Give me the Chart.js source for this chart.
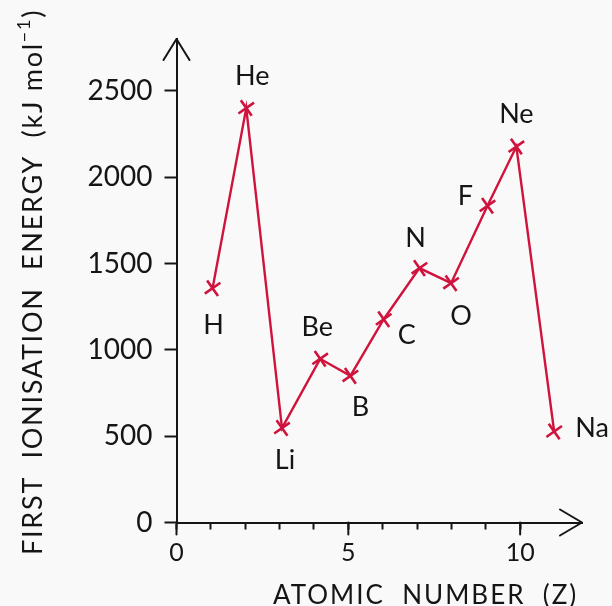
<!DOCTYPE html>
<html>
<head>
<meta charset="utf-8">
<script src="https://cdn.jsdelivr.net/npm/chart.js@4.4.1/dist/chart.umd.min.js"></script>
<style>
  html, body { margin: 0; padding: 0; background: #f9f9f9; }
  #wrap { width: 612px; height: 606px; }
</style>
</head>
<body>
<div id="wrap"><canvas id="ieChart" width="612" height="606"></canvas></div>
<script>
const elements = ['H', 'He', 'Li', 'Be', 'B', 'C', 'N', 'O', 'F', 'Ne', 'Na'];
const atomicNumber = [1.05, 2.03, 3.07, 4.18, 5.06, 6.03, 7.07, 7.99, 9.05, 9.89, 10.99];
const ionisationEnergy = [1357, 2400, 547, 948, 849, 1177, 1473, 1386, 1834, 2177, 527];
const xTickLabels = [0, 5, 10];
const yTickValues = [0, 500, 1000, 1500, 2000, 2500];

const FONT = 'Lato';
const INK = '#151515';
const RED = '#d0133c';

// where each element name sits relative to its cross
const labelOffsets = {
  H: [1, 37], He: [6, -32], Li: [3, 32], Be: [-3, -32], B: [10, 31], C: [23, 16],
  N: [-4, -30], O: [10, 33], F: [-22, -10], Ne: [0, -32], Na: [38, -3]
};

const points = atomicNumber.map((x, i) => ({ x: x, y: ionisationEnergy[i] }));

const backgroundPlugin = {
  id: 'bg',
  beforeDraw(chart) {
    const ctx = chart.ctx;
    ctx.save();
    ctx.fillStyle = '#f9f9f9';
    ctx.fillRect(0, 0, chart.width, chart.height);
    ctx.restore();
  }
};

const decorPlugin = {
  id: 'decor',
  afterDatasetsDraw(chart) {
    const ctx = chart.ctx;
    const xs = chart.scales.x;
    const ys = chart.scales.y;
    const x0 = xs.getPixelForValue(0);
    const y0 = ys.getPixelForValue(0);
    ctx.save();
    ctx.strokeStyle = INK;
    ctx.lineWidth = 2;
    ctx.lineCap = 'round';
    ctx.lineJoin = 'round';

    // longer ticks at 0, 5, 10
    xTickLabels.forEach(v => {
      const px = xs.getPixelForValue(v);
      ctx.beginPath();
      ctx.moveTo(px, y0);
      ctx.lineTo(px, y0 + 12);
      ctx.stroke();
    });

    // arrow heads
    const yTop = ys.getPixelForValue(ys.max);
    ctx.beginPath();
    ctx.moveTo(x0 - 13, yTop + 21);
    ctx.lineTo(x0, yTop);
    ctx.lineTo(x0 + 13, yTop + 21);
    ctx.stroke();

    const xEnd = xs.getPixelForValue(xs.max);
    ctx.beginPath();
    ctx.moveTo(xEnd - 22, y0 - 13);
    ctx.lineTo(xEnd, y0);
    ctx.lineTo(xEnd - 22, y0 + 13);
    ctx.stroke();

    // element names
    ctx.fillStyle = INK;
    ctx.font = '27px ' + FONT;
    ctx.textAlign = 'center';
    ctx.textBaseline = 'middle';
    chart.getDatasetMeta(0).data.forEach((pt, i) => {
      const off = labelOffsets[elements[i]];
      ctx.fillText(elements[i], pt.x + off[0], pt.y + off[1]);
    });

    // axis titles
    ctx.textAlign = 'left';
    ctx.textBaseline = 'alphabetic';
    ctx.letterSpacing = '2px';
    ctx.font = '26px ' + FONT;
    ctx.fillText('ATOMIC  NUMBER  (Z)', 273, 604);

    ctx.translate(42, 555);
    ctx.rotate(-Math.PI / 2);
    ctx.letterSpacing = '1.75px';
    ctx.font = '27px ' + FONT;
    const main = 'FIRST  IONISATION  ENERGY  (kJ mol';
    ctx.fillText(main, 0, 0);
    let w = ctx.measureText(main).width;
    ctx.font = '18px ' + FONT;
    ctx.fillText('\u22121', w, -12);
    w += ctx.measureText('\u22121').width;
    ctx.font = '27px ' + FONT;
    ctx.fillText(')', w, 0);
    ctx.restore();
  }
};

new Chart(document.getElementById('ieChart'), {
  type: 'line',
  data: {
    datasets: [{
      data: points,
      borderColor: RED,
      borderWidth: 2.4,
      tension: 0,
      fill: false,
      pointStyle: 'cross',
      pointRotation: -35,
      pointRadius: 9.5,
      pointBorderWidth: 2.6,
      pointBorderColor: RED,
      pointBackgroundColor: RED,
      clip: false
    }]
  },
  options: {
    responsive: false,
    devicePixelRatio: 1,
    animation: false,
    layout: { padding: { top: 39, right: 30, left: 0, bottom: 0 } },
    plugins: { legend: { display: false }, tooltip: { enabled: false } },
    scales: {
      x: {
        type: 'linear',
        min: 0,
        max: 11.8,
        afterFit: s => { s.height = 606 - 39 - 483.5; },
        afterBuildTicks: s => { s.ticks = s.ticks.filter(t => Number.isInteger(t.value)); },
        ticks: {
          stepSize: 1,
          autoSkip: false,
          maxRotation: 0,
          padding: 8,
          color: INK,
          font: { family: FONT, size: 25 },
          callback: v => xTickLabels.includes(v) ? String(v) : ''
        },
        grid: { drawOnChartArea: false, drawTicks: true, tickLength: 7, tickWidth: 2, tickColor: INK },
        border: { color: INK, width: 2 }
      },
      y: {
        min: 0,
        max: 2800,
        afterFit: s => { s.width = 176.5; },
        afterBuildTicks: s => { s.ticks = yTickValues.map(v => ({ value: v })); },
        ticks: {
          padding: 12,
          color: INK,
          font: { family: FONT, size: 28 },
          callback: v => String(v)
        },
        grid: { drawOnChartArea: false, drawTicks: true, tickLength: 12, tickWidth: 2, tickColor: INK },
        border: { color: INK, width: 2 }
      }
    }
  },
  plugins: [backgroundPlugin, decorPlugin]
});
</script>
</body>
</html>
